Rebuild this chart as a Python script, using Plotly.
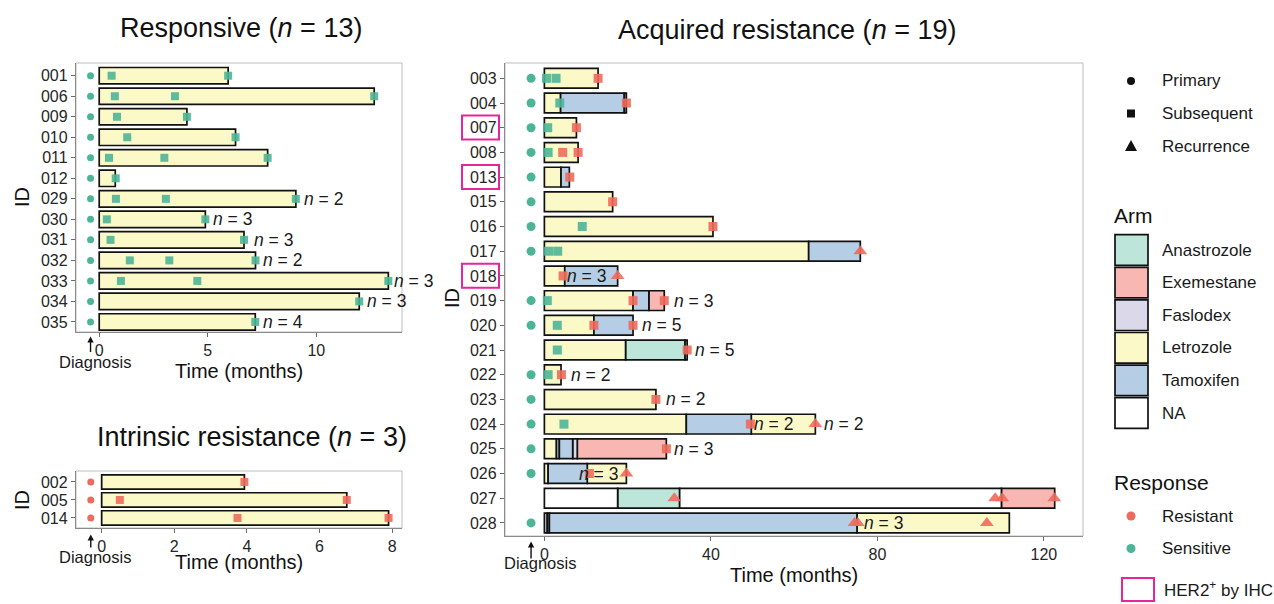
import plotly.graph_objects as go

W, H = 1274, 604
FONT = "Liberation Sans, Arial, sans-serif"

ARMS = ["Anastrozole", "Exemestane", "Faslodex", "Letrozole", "Tamoxifen", "NA"]
ARM_COLORS = ["#bde5da", "#f8b7b3", "#dbd8ea", "#fcf9c9", "#b5cee5", "#ffffff"]
RESPONSES = ["Resistant", "Sensitive"]
RESP_COLORS = ["#ee6a5c", "#4db597"]
SAMPLE_TYPES = ["Primary", "Subsequent", "Recurrence"]
SAMPLE_SYMBOLS = ["circle", "square", "triangle-up"]

# ---------------- Responsive (n = 13) ----------------
R_IDS = ["001", "006", "009", "010", "011", "012", "029", "030", "031", "032", "033", "034", "035"]
R_SEG_ID = R_IDS
R_SEG_START = [0] * 13
R_SEG_END = [5.94, 12.67, 4.04, 6.28, 7.76, 0.74, 9.06, 4.89, 6.67, 7.20, 13.32, 11.98, 7.19]
R_SEG_ARM = ["Letrozole"] * 13
R_PRIMARY_ID = R_IDS
R_PRIMARY_RESP = ["Sensitive"] * 13
R_DIAG_X = -0.4
R_SMP_ID = ["001", "001", "006", "006", "006", "009", "009", "010", "010", "011", "011", "011",
            "012", "029", "029", "029", "030", "030", "031", "031", "032", "032", "032",
            "033", "033", "033", "034", "035"]
R_SMP_TIME = [0.57, 5.94, 0.72, 3.49, 12.67, 0.82, 4.04, 1.29, 6.28, 0.45, 3.00, 7.76,
              0.76, 0.77, 3.07, 9.06, 0.35, 4.89, 0.52, 6.67, 1.41, 3.23, 7.20,
              1.00, 4.52, 13.32, 11.98, 7.19]
R_SMP_TYPE = ["Subsequent"] * 28
R_SMP_RESP = ["Sensitive"] * 28
R_LAB_ID = ["029", "030", "031", "032", "033", "034", "035"]
R_LAB_X = [9.40, 5.18, 7.08, 7.48, 13.52, 12.30, 7.48]
R_LAB_N = [2, 3, 3, 2, 3, 3, 4]

# ---------------- Intrinsic resistance (n = 3) ----------------
I_IDS = ["002", "005", "014"]
I_SEG_ID = I_IDS
I_SEG_START = [0, 0, 0]
I_SEG_END = [3.93, 6.75, 7.90]
I_SEG_ARM = ["Letrozole"] * 3
I_PRIMARY_ID = I_IDS
I_PRIMARY_RESP = ["Resistant"] * 3
I_DIAG_X = -0.3
I_SMP_ID = ["002", "005", "005", "014", "014"]
I_SMP_TIME = [3.93, 0.50, 6.75, 3.74, 7.90]
I_SMP_TYPE = ["Subsequent"] * 5
I_SMP_RESP = ["Resistant"] * 5
I_LAB_ID = []
I_LAB_X = []
I_LAB_N = []

# ---------------- Acquired resistance (n = 19) ----------------
A_IDS = ["003", "004", "007", "008", "013", "015", "016", "017", "018", "019",
         "020", "021", "022", "023", "024", "025", "026", "027", "028"]
A_HER2 = ["007", "013", "018"]
A_SEG_ID = ["003",
            "004", "004", "004",
            "007",
            "008",
            "013", "013",
            "015",
            "016",
            "017", "017",
            "018", "018",
            "019", "019", "019",
            "020", "020",
            "021", "021", "021",
            "022",
            "023",
            "024", "024", "024",
            "025", "025", "025", "025", "025",
            "026", "026", "026",
            "027", "027", "027", "027",
            "028", "028", "028", "028"]
A_SEG_START = [0,
               0, 3.9, 19.2,
               0,
               0,
               0, 4.0,
               0,
               0,
               0, 63.5,
               0, 4.9,
               0, 21.3, 25.1,
               0, 11.9,
               0, 19.5, 33.8,
               0,
               0,
               0, 34.1, 49.7,
               0, 2.9, 3.6, 6.8, 7.9,
               0, 0.9, 10.3,
               0, 17.6, 32.5, 109.8,
               0, 0.7, 1.2, 75.1]
A_SEG_END = [12.9,
             3.9, 19.2, 19.7,
             7.7,
             8.1,
             4.0, 6.0,
             16.4,
             40.5,
             63.5, 75.9,
             4.9, 17.6,
             21.3, 25.1, 28.8,
             11.9, 21.3,
             19.5, 33.8, 34.3,
             4.0,
             26.8,
             34.1, 49.7, 65.1,
             2.9, 3.6, 6.8, 7.9, 29.3,
             0.9, 10.3, 19.7,
             17.6, 32.5, 109.8, 122.6,
             0.7, 1.2, 75.1, 111.7]
A_SEG_ARM = ["Letrozole",
             "Letrozole", "Tamoxifen", "Tamoxifen",
             "Letrozole",
             "Letrozole",
             "Letrozole", "Tamoxifen",
             "Letrozole",
             "Letrozole",
             "Letrozole", "Tamoxifen",
             "Letrozole", "Tamoxifen",
             "Letrozole", "Tamoxifen", "Exemestane",
             "Letrozole", "Tamoxifen",
             "Letrozole", "Anastrozole", "Anastrozole",
             "Letrozole",
             "Letrozole",
             "Letrozole", "Tamoxifen", "Letrozole",
             "Letrozole", "Tamoxifen", "Tamoxifen", "Faslodex", "Exemestane",
             "Letrozole", "Tamoxifen", "Letrozole",
             "NA", "Anastrozole", "NA", "Exemestane",
             "Faslodex", "Tamoxifen", "Tamoxifen", "Letrozole"]
A_PRIMARY_ID = ["003", "004", "007", "008", "013", "015", "016", "017", "019",
                "020", "022", "023", "024", "025", "026", "028"]
A_PRIMARY_RESP = ["Sensitive"] * 16
A_DIAG_X = -3.2
A_SMP_ID = ["003", "003", "003", "004", "004", "007", "007", "008", "008", "008",
            "013", "015", "016", "016", "017", "017", "017", "018", "018",
            "019", "019", "019", "020", "020", "020", "021", "021", "022", "022",
            "023", "024", "024", "024", "025", "026", "026",
            "027", "027", "027", "027", "028", "028", "028"]
A_SMP_TIME = [0.5, 2.8, 12.9, 3.7, 19.7, 0.8, 7.7, 0.9, 4.4, 8.1,
              6.1, 16.4, 9.1, 40.5, 1.0, 3.2, 75.9, 4.5, 17.6,
              0.7, 21.3, 28.8, 3.1, 11.9, 21.3, 3.1, 34.3, 0.9, 4.1,
              26.8, 4.7, 49.5, 65.1, 29.3, 10.8, 19.7,
              31.2, 108.3, 110.0, 122.5, 74.5, 75.3, 106.3]
A_SMP_TYPE = ["Subsequent", "Subsequent", "Subsequent", "Subsequent", "Subsequent",
              "Subsequent", "Subsequent", "Subsequent", "Subsequent", "Subsequent",
              "Subsequent", "Subsequent", "Subsequent", "Subsequent",
              "Subsequent", "Subsequent", "Recurrence", "Subsequent", "Recurrence",
              "Subsequent", "Subsequent", "Subsequent", "Subsequent", "Subsequent", "Subsequent",
              "Subsequent", "Subsequent", "Subsequent", "Subsequent",
              "Subsequent", "Subsequent", "Subsequent", "Recurrence", "Subsequent",
              "Subsequent", "Recurrence",
              "Recurrence", "Recurrence", "Recurrence", "Recurrence",
              "Recurrence", "Recurrence", "Recurrence"]
A_SMP_RESP = ["Sensitive", "Sensitive", "Resistant", "Sensitive", "Resistant",
              "Sensitive", "Resistant", "Sensitive", "Resistant", "Resistant",
              "Resistant", "Resistant", "Sensitive", "Resistant",
              "Sensitive", "Sensitive", "Resistant", "Resistant", "Resistant",
              "Sensitive", "Resistant", "Resistant", "Sensitive", "Resistant", "Resistant",
              "Sensitive", "Resistant", "Sensitive", "Resistant",
              "Resistant", "Sensitive", "Resistant", "Resistant", "Resistant",
              "Resistant", "Resistant",
              "Resistant", "Resistant", "Resistant", "Resistant",
              "Resistant", "Resistant", "Resistant"]
A_LAB_ID = ["018", "019", "020", "021", "022", "023", "024", "024", "025", "026", "028"]
A_LAB_X = [5.3, 30.8, 23.3, 35.9, 6.1, 28.9, 50.2, 66.9, 30.8, 8.1, 76.5]
A_LAB_N = [3, 3, 5, 5, 2, 2, 2, 2, 3, 3, 3]


def px(x):
    return x / W


def py(y):
    return 1 - y / H


fig = go.Figure()

PANELS = [
    dict(xa="x", ya="y", ids=R_IDS, seg=(R_SEG_ID, R_SEG_START, R_SEG_END, R_SEG_ARM),
         prim=(R_PRIMARY_ID, R_PRIMARY_RESP), diag=R_DIAG_X,
         smp=(R_SMP_ID, R_SMP_TIME, R_SMP_TYPE, R_SMP_RESP),
         lab=(R_LAB_ID, R_LAB_X, R_LAB_N), msize=8, psize=7, tsize=11),
    dict(xa="x2", ya="y2", ids=I_IDS, seg=(I_SEG_ID, I_SEG_START, I_SEG_END, I_SEG_ARM),
         prim=(I_PRIMARY_ID, I_PRIMARY_RESP), diag=I_DIAG_X,
         smp=(I_SMP_ID, I_SMP_TIME, I_SMP_TYPE, I_SMP_RESP),
         lab=(I_LAB_ID, I_LAB_X, I_LAB_N), msize=8, psize=7, tsize=11),
    dict(xa="x3", ya="y3", ids=A_IDS, seg=(A_SEG_ID, A_SEG_START, A_SEG_END, A_SEG_ARM),
         prim=(A_PRIMARY_ID, A_PRIMARY_RESP), diag=A_DIAG_X,
         smp=(A_SMP_ID, A_SMP_TIME, A_SMP_TYPE, A_SMP_RESP),
         lab=(A_LAB_ID, A_LAB_X, A_LAB_N), msize=9, psize=9, tsize=12),
]

annotations = []

# bars
for p in PANELS:
    row = {k: i for i, k in enumerate(p["ids"])}
    sid, s0, s1, sarm = p["seg"]
    for arm, col in zip(ARMS, ARM_COLORS):
        idx = [i for i, a in enumerate(sarm) if a == arm]
        if not idx:
            continue
        fig.add_trace(go.Bar(
            orientation="h",
            y=[row[sid[i]] for i in idx],
            base=[s0[i] for i in idx],
            x=[s1[i] - s0[i] for i in idx],
            width=0.8,
            marker=dict(color=col, line=dict(color="#111111", width=1.7)),
            xaxis=p["xa"], yaxis=p["ya"], showlegend=False, hoverinfo="skip"))

# points
for p in PANELS:
    row = {k: i for i, k in enumerate(p["ids"])}
    pid, presp = p["prim"]
    for resp, col in zip(RESPONSES, RESP_COLORS):
        ys = [row[pid[i]] for i in range(len(pid)) if presp[i] == resp]
        if ys:
            fig.add_trace(go.Scatter(
                x=[p["diag"]] * len(ys), y=ys, mode="markers",
                marker=dict(symbol="circle", size=p["psize"], color=col, line=dict(width=0)),
                xaxis=p["xa"], yaxis=p["ya"], showlegend=False, hoverinfo="skip",
                cliponaxis=False))
    mid, mt, mty, mresp = p["smp"]
    for stype, sym in zip(SAMPLE_TYPES[1:], SAMPLE_SYMBOLS[1:]):
        for resp, col in zip(RESPONSES, RESP_COLORS):
            idx = [i for i in range(len(mid)) if mty[i] == stype and mresp[i] == resp]
            if not idx:
                continue
            fig.add_trace(go.Scatter(
                x=[mt[i] for i in idx], y=[row[mid[i]] for i in idx], mode="markers",
                marker=dict(symbol=sym, size=p["tsize"] if stype == "Recurrence" else p["msize"],
                            color=col, opacity=0.9, line=dict(width=0)),
                xaxis=p["xa"], yaxis=p["ya"], showlegend=False, hoverinfo="skip",
                cliponaxis=False))
    lid, lx, ln = p["lab"]
    for i in range(len(lid)):
        annotations.append(dict(
            x=lx[i], y=row[lid[i]], xref=p["xa"], yref=p["ya"],
            text=f"<i>n</i> = {ln[i]}", showarrow=False, xanchor="left", yanchor="middle",
            borderpad=0, font=dict(size=17.5, color="#1a1a1a", family=FONT)))

# axes
axis_common = dict(showgrid=False, zeroline=False, showline=True, linecolor="#8a8a8a",
                   linewidth=1.3, ticks="outside", ticklen=4, tickwidth=1.2,
                   tickcolor="#6a6a6a", tickfont=dict(size=16, color="#262626", family=FONT),
                   fixedrange=True, automargin=False)

X_DOMAINS = {"x": (76, 402), "x2": (76, 402), "x3": (505, 1083)}
X_RANGES = {"x": (-1.07, 13.95), "x2": (-0.707, 8.27), "x3": (-9.46, 129.4)}

fig.update_layout(
    template="none",
    width=W, height=H, margin=dict(l=0, r=0, t=0, b=0, pad=0), autosize=False,
    paper_bgcolor="white", plot_bgcolor="white", barmode="overlay",
    showlegend=False, font=dict(family=FONT, color="#1a1a1a"),
    xaxis=dict(domain=[px(76), px(402)], range=list(X_RANGES["x"]), anchor="y",
               tickvals=[0, 5, 10], **axis_common),
    yaxis=dict(domain=[py(332), py(63)], range=[12.49, -0.62], anchor="x",
               tickvals=list(range(len(R_IDS))), ticktext=R_IDS, **axis_common),
    xaxis2=dict(domain=[px(76), px(402)], range=list(X_RANGES["x2"]), anchor="y2",
                tickvals=[0, 2, 4, 6, 8], **axis_common),
    yaxis2=dict(domain=[py(528), py(471)], range=[2.56, -0.61], anchor="x2",
                tickvals=list(range(len(I_IDS))), ticktext=I_IDS, **axis_common),
    xaxis3=dict(domain=[px(505), px(1083)], range=list(X_RANGES["x3"]), anchor="y3",
                tickvals=[0, 40, 80, 120], **axis_common),
    yaxis3=dict(domain=[py(536), py(63)], range=[18.53, -0.62], anchor="x3",
                tickvals=list(range(len(A_IDS))), ticktext=A_IDS, **axis_common),
)

shapes = []
# panel borders
for xa, ya in [("x", "y"), ("x2", "y2"), ("x3", "y3")]:
    shapes.append(dict(type="rect", xref=f"{xa} domain", yref=f"{ya} domain",
                       x0=0, x1=1, y0=0, y1=1, line=dict(color="#bdbdbd", width=1),
                       layer="below"))

# HER2 boxes around tick labels
for hid in A_HER2:
    r = A_IDS.index(hid)
    shapes.append(dict(type="rect", xref="paper", yref="y3", x0=px(462), x1=px(499),
                       y0=r - 0.49, y1=r + 0.48, line=dict(color="#e7259a", width=2)))

# panel titles
for txt, x, y in [("Responsive (<i>n</i> = 13)", 241, 28),
                  ("Intrinsic resistance (<i>n</i> = 3)", 252, 437),
                  ("Acquired resistance (<i>n</i> = 19)", 787, 30)]:
    annotations.append(dict(x=px(x), y=py(y), xref="paper", yref="paper", text=txt,
                            showarrow=False, xanchor="center", yanchor="middle",
                            font=dict(size=27, color="#111111", family=FONT)))

# axis titles
for x, y in [(239, 371), (239, 562), (794, 575)]:
    annotations.append(dict(x=px(x), y=py(y), xref="paper", yref="paper",
                            text="Time (months)", showarrow=False, xanchor="center",
                            yanchor="middle", font=dict(size=20, color="#111111", family=FONT)))
for x, y in [(22, 197), (22, 500), (452, 298)]:
    annotations.append(dict(x=px(x), y=py(y), xref="paper", yref="paper", text="ID",
                            showarrow=False, textangle=-90, xanchor="center",
                            yanchor="middle", font=dict(size=20, color="#111111", family=FONT)))

# diagnosis arrows (line + filled head) and labels
for xa, dx, tip, tail, tx, ty in [("x", R_DIAG_X, 336.5, 352, 95, 361.7),
                                  ("x2", I_DIAG_X, 534.5, 547.5, 95, 557),
                                  ("x3", A_DIAG_X, 541.5, 558.5, 540, 563)]:
    d0, d1 = X_DOMAINS[xa]
    r0, r1 = X_RANGES[xa]
    hw = 3.2 * (r1 - r0) / (d1 - d0)  # arrowhead half-width (3.2 px) in data units
    shapes.append(dict(type="line", xref=xa, yref="paper", x0=dx, x1=dx,
                       y0=py(tail), y1=py(tip + 5), line=dict(color="#111111", width=1.4)))
    shapes.append(dict(type="path", xref=xa, yref="paper",
                       path=f"M {dx - hw} {py(tip + 6)} L {dx + hw} {py(tip + 6)} L {dx} {py(tip)} Z",
                       fillcolor="#111111", line=dict(width=0)))
    annotations.append(dict(x=px(tx), y=py(ty), xref="paper", yref="paper",
                            text="Diagnosis", showarrow=False, xanchor="center",
                            yanchor="middle", font=dict(size=16.5, color="#1a1a1a", family=FONT)))

# ---------------- legend (drawn manually) ----------------
LEG_TEXT_X = 1160
LEG_MARK_X = 1131
leg_font = dict(size=17, color="#1a1a1a", family=FONT)
for i, lab in enumerate(SAMPLE_TYPES):
    yc = 81 + i * 32.5
    annotations.append(dict(x=px(LEG_TEXT_X), y=py(yc), xref="paper", yref="paper",
                            text=lab, showarrow=False, xanchor="left", yanchor="middle",
                            font=leg_font))
    if lab == "Primary":
        r = 4
        shapes.append(dict(type="circle", xref="paper", yref="paper",
                           x0=px(LEG_MARK_X - r), x1=px(LEG_MARK_X + r),
                           y0=py(yc + r), y1=py(yc - r), fillcolor="#111111",
                           line=dict(width=0)))
    elif lab == "Subsequent":
        r = 4
        shapes.append(dict(type="rect", xref="paper", yref="paper",
                           x0=px(LEG_MARK_X - r), x1=px(LEG_MARK_X + r),
                           y0=py(yc + r), y1=py(yc - r), fillcolor="#111111",
                           line=dict(width=0)))
    else:
        hw, ht = 6, 5
        path = (f"M {px(LEG_MARK_X - hw)} {py(yc + ht)} L {px(LEG_MARK_X + hw)} {py(yc + ht)} "
                f"L {px(LEG_MARK_X)} {py(yc - ht - 1)} Z")
        shapes.append(dict(type="path", xref="paper", yref="paper", path=path,
                           fillcolor="#111111", line=dict(width=0)))

annotations.append(dict(x=px(1112), y=py(215), xref="paper", yref="paper", text="Arm",
                        showarrow=False, xanchor="left", yanchor="middle",
                        font=dict(size=21, color="#111111", family=FONT)))
for i, (arm, col) in enumerate(zip(ARMS, ARM_COLORS)):
    yc = 250 + i * 32.6
    shapes.append(dict(type="rect", xref="paper", yref="paper", x0=px(1115), x1=px(1148),
                       y0=py(yc + 15.3), y1=py(yc - 15.3), fillcolor=col,
                       line=dict(color="#111111", width=1.7)))
    annotations.append(dict(x=px(LEG_TEXT_X), y=py(yc), xref="paper", yref="paper",
                            text=arm, showarrow=False, xanchor="left", yanchor="middle",
                            font=leg_font))

annotations.append(dict(x=px(1112), y=py(482), xref="paper", yref="paper", text="Response",
                        showarrow=False, xanchor="left", yanchor="middle",
                        font=dict(size=21, color="#111111", family=FONT)))
for i, (resp, col) in enumerate(zip(RESPONSES, RESP_COLORS)):
    yc = 516 + i * 32.5
    r = 4.5
    shapes.append(dict(type="circle", xref="paper", yref="paper",
                       x0=px(LEG_MARK_X - r), x1=px(LEG_MARK_X + r),
                       y0=py(yc + r), y1=py(yc - r), fillcolor=col, line=dict(width=0)))
    annotations.append(dict(x=px(LEG_TEXT_X), y=py(yc), xref="paper", yref="paper",
                            text=resp, showarrow=False, xanchor="left", yanchor="middle",
                            font=leg_font))

shapes.append(dict(type="rect", xref="paper", yref="paper", x0=px(1122), x1=px(1154),
                   y0=py(601), y1=py(578), line=dict(color="#e7259a", width=2)))
annotations.append(dict(x=px(1162), y=py(589), xref="paper", yref="paper",
                        text="HER2<sup>+</sup> by IHC", showarrow=False, xanchor="left",
                        yanchor="middle", font=leg_font))

fig.update_layout(shapes=shapes, annotations=annotations)
fig.write_html("out.html", config={"displayModeBar": False},
               post_script="document.body.style.margin='0px';"
                           "document.documentElement.style.overflow='hidden';")
